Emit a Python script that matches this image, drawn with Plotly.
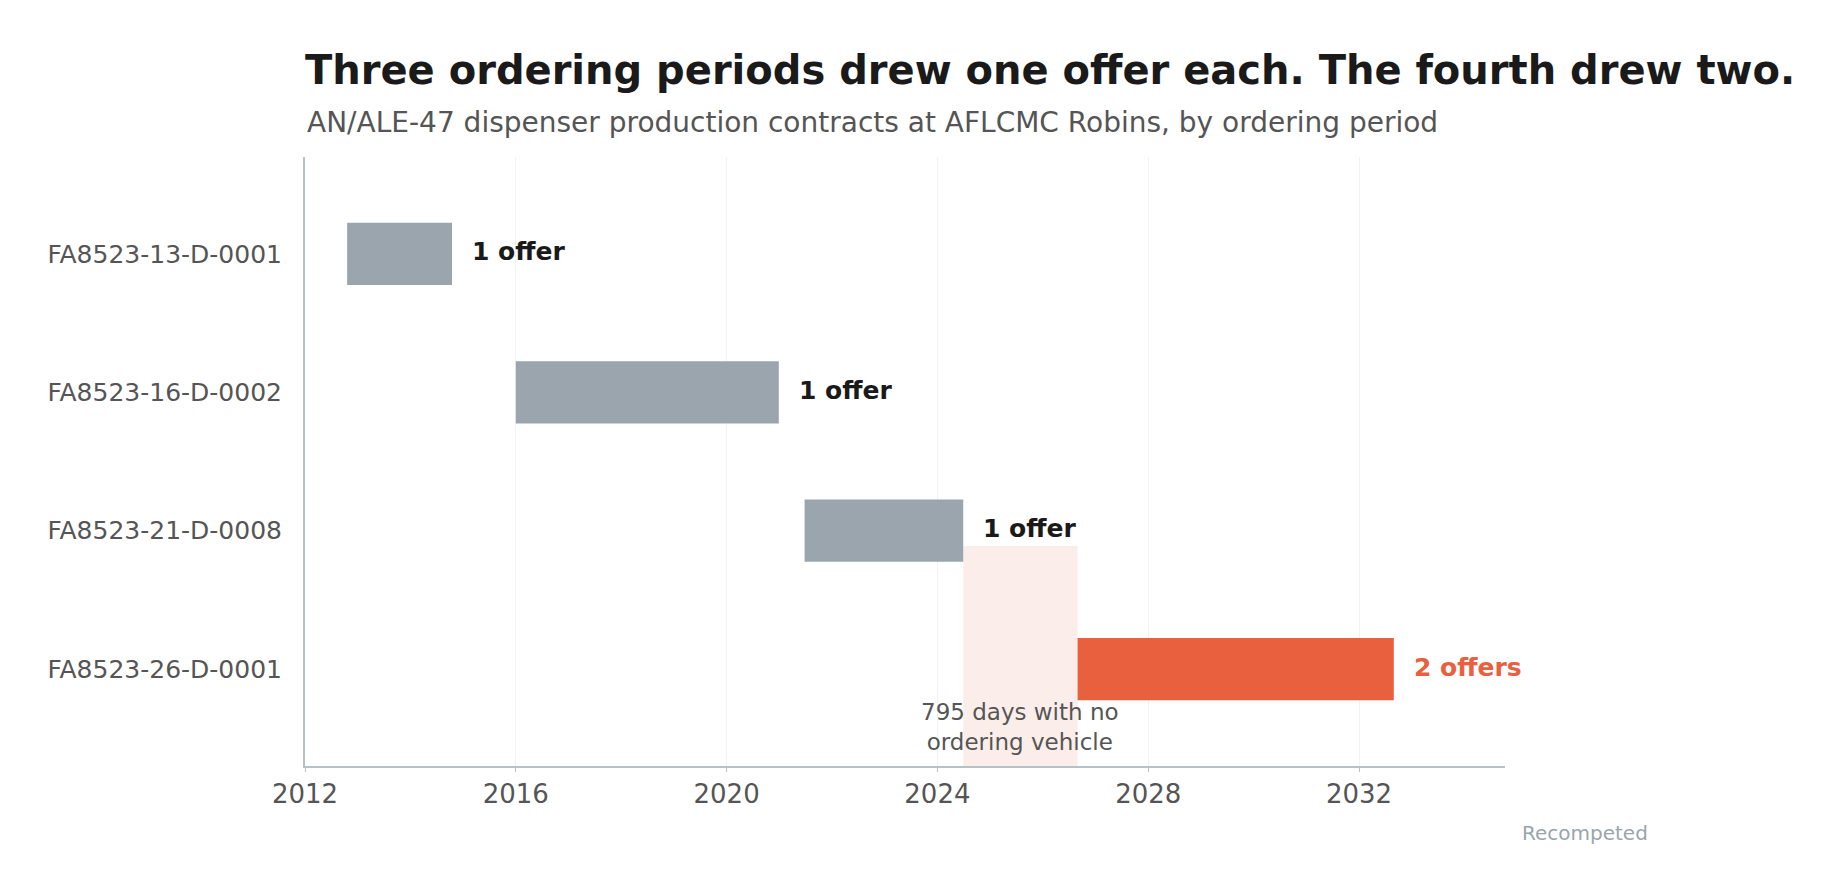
import plotly.graph_objects as go

contracts = ["FA8523-13-D-0001", "FA8523-16-D-0002", "FA8523-21-D-0008", "FA8523-26-D-0001"]
start_year = [2012.8, 2016.0, 2021.48, 2026.66]
end_year = [2014.79, 2020.99, 2024.49, 2032.66]
offer_labels = ["1 offer", "1 offer", "1 offer", "2 offers"]
gap_start, gap_end = 2024.49, 2026.66

GREY = "#9aa5ae"
RED = "#e9603e"
colors = [GREY, GREY, GREY, RED]
ypos = list(range(len(contracts)))

fig = go.Figure()
fig.add_shape(type="rect", x0=gap_start, x1=gap_end, y0=2.11, y1=3.7,
              fillcolor="#fbeeea", line_width=0, layer="below")
fig.add_trace(go.Bar(
    y=ypos, x=[e - s for s, e in zip(start_year, end_year)], base=start_year,
    orientation="h", width=0.45, marker_color=colors, marker_line_width=0,
    hoverinfo="skip", showlegend=False))
for i, (e, lab, c) in enumerate(zip(end_year, offer_labels, colors)):
    fig.add_annotation(x=e, y=i, text="<b>%s</b>" % lab, showarrow=False,
                       xanchor="left", xshift=18, yshift=2,
                       font=dict(size=25, color=RED if c == RED else "#1a1a1a"))
fig.add_annotation(x=(gap_start + gap_end) / 2, y=3.42, text="795 days with no<br>ordering vehicle",
                   showarrow=False, font=dict(size=23, color="#555555"))
fig.add_annotation(x=1.067, y=-0.11, xref="paper", yref="paper", text="Recompeted",
                   showarrow=False, xanchor="center", yanchor="middle",
                   font=dict(size=20, color="#9aa5ae"))
# subtitle
fig.add_annotation(x=0, y=1.057, xref="paper", yref="paper", showarrow=False,
                   xanchor="left", yanchor="middle",
                   text="AN/ALE-47 dispenser production contracts at AFLCMC Robins, by ordering period",
                   font=dict(size=28, color="#555555"))

fig.update_layout(
    width=1829, height=882, plot_bgcolor="white", paper_bgcolor="white",
    font=dict(family="DejaVu Sans", color="#555555"),
    margin=dict(l=297, r=332, t=149, b=124),
    title=dict(text="<b>Three ordering periods drew one offer each. The fourth drew two.</b>",
               x=297 / 1829, xanchor="left", y=1 - 62 / 882, yanchor="middle",
               font=dict(size=40, color="#1a1a1a")),
)
fig.update_xaxes(range=[2012, 2034.77], tickvals=[2012, 2016, 2020, 2024, 2028, 2032],
                 ticktext=["2012", "2016", "2020", "2024", "2028", "2032"],
                 showgrid=True, gridcolor="#f2f2f2", showline=True, linecolor="#b8c0c8",
                 linewidth=2, zeroline=False, tickfont=dict(size=26, color="#555555"),
                 ticks="outside", ticklen=4, tickcolor="#b8c0c8")
fig.update_yaxes(range=[3.7, -0.7], tickvals=ypos, ticktext=contracts, showgrid=False,
                 showline=True, linecolor="#b8c0c8", linewidth=2, zeroline=False,
                 tickfont=dict(size=25, color="#555555"), ticks="", ticklabelstandoff=16)
fig.write_html("out.html")
